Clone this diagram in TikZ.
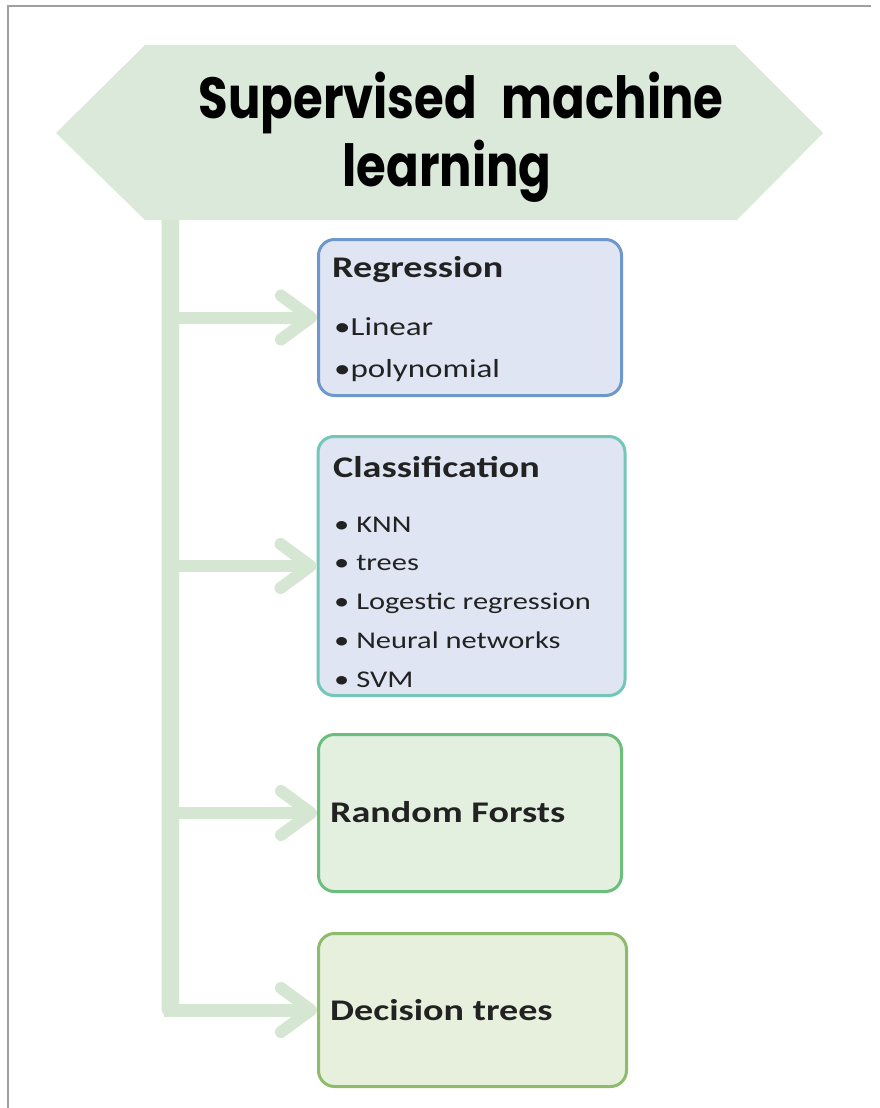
\documentclass[tikz,border=0pt]{standalone}
\usepackage{fontspec}
\newfontfamily\titlefont[FakeStretch=0.83]{Poppins}
\newfontfamily\boxfont[FakeStretch=1.27]{Carlito}
\definecolor{hexfill}{HTML}{DAE9D9}
\definecolor{branch}{HTML}{D5E6D3}
\definecolor{bluefill}{HTML}{DFE5F3}
\definecolor{blueline}{HTML}{6E98CB}
\definecolor{tealline}{HTML}{74C6B6}
\definecolor{greenfill}{HTML}{E3EFDF}
\definecolor{greenline}{HTML}{6BBE7B}
\definecolor{olivefill}{HTML}{E6F0DD}
\definecolor{oliveline}{HTML}{8EBB6C}
\definecolor{ink}{HTML}{222222}
\definecolor{framecol}{HTML}{A0A0A0}
\begin{document}
\begin{tikzpicture}[x=1pt,y=-1pt,
  card/.style={draw, line width=3pt, rounded corners=16pt, inner sep=0pt},
  shaft/.style={draw=branch, line width=12pt},
  chevron/.style={draw=branch, line width=12pt, line cap=round, line join=round},
  titletext/.style={font=\titlefont\bfseries\fontsize{58}{68}\selectfont, text=black, inner sep=0pt, anchor=base},
  headtext/.style={font=\boxfont\bfseries\fontsize{30}{36}\selectfont, text=ink, inner sep=0pt, anchor=base west},
  itemtext/.style={font=\boxfont\fontsize{24}{29}\selectfont, text=ink, inner sep=0pt, anchor=base west}]
\useasboundingbox (0,0) rectangle (880,1108);
% page frame (top and left edges only)
\draw[framecol, line width=1.5pt] (8,1108) -- (8,6) -- (871,6);

% vertical trunk, drawn first so the banner covers its top
\node[fill=branch, rounded corners=7pt, minimum width=17.5pt, minimum height=806pt, inner sep=0pt] (trunk) at (170.25,613) {};

% banner
\fill[hexfill] (56,133) -- (145,45) -- (735,45) -- (823,133) -- (737,220) -- (145,220) -- cycle;
\node[titletext] (title1) at (461,118) {Supervised\hspace{0.25em} machine};
\node[titletext] (title2) at (447,186) {learning};

% category boxes
\node[card, draw=blueline, fill=bluefill, minimum width=303pt, minimum height=156pt] (reg) at (470,317.5) {};
\node[card, draw=tealline, fill=bluefill, minimum width=307pt, minimum height=259pt] (cls) at (471.5,566) {};
\node[card, draw=greenline, fill=greenfill, minimum width=303pt, minimum height=157pt] (rf) at (470,813) {};
\node[card, draw=oliveline, fill=olivefill, minimum width=308pt, minimum height=153pt] (dt) at (472.5,1010) {};

% box contents
\node[headtext, font=\boxfont\bfseries\fontsize{30}{36}\selectfont] (regh) at (332,277) {Regression};
\node[itemtext, font=\boxfont\fontsize{26}{31}\selectfont] (reg1) at (334,335) {•Linear};
\node[itemtext, font=\boxfont\fontsize{26}{31}\selectfont] (reg2) at (334,377) {•polynomial};

\node[headtext] (clsh) at (333,477) {Classification};
\node[itemtext] (cls1) at (334,532) {• KNN};
\node[itemtext] (cls2) at (334,570.75) {• trees};
\node[itemtext] (cls3) at (334,609.5) {• Logestic regression};
\node[itemtext] (cls4) at (334,648.25) {• Neural networks};
\node[itemtext] (cls5) at (334,687) {• SVM};

\node[headtext] (rfh) at (330,822) {Random Forsts};
\node[headtext] (dth) at (330,1020) {Decision trees};

% branches from the trunk to each box
\foreach \b in {reg,cls,rf} {
  \draw[shaft] (trunk.center |- \b.west) -- ([xshift=-6pt]\b.west);
  \draw[chevron] ([xshift=-36pt,yshift=22pt]\b.west) -- ([xshift=-6pt]\b.west) -- ([xshift=-36pt,yshift=-22pt]\b.west);
}
\draw[shaft, line width=13pt] ([yshift=6.5pt]trunk.south) |- ([xshift=-6pt]dt.west);
\draw[chevron] ([xshift=-36pt,yshift=22pt]dt.west) -- ([xshift=-6pt]dt.west) -- ([xshift=-36pt,yshift=-22pt]dt.west);
\end{tikzpicture}
\end{document}
